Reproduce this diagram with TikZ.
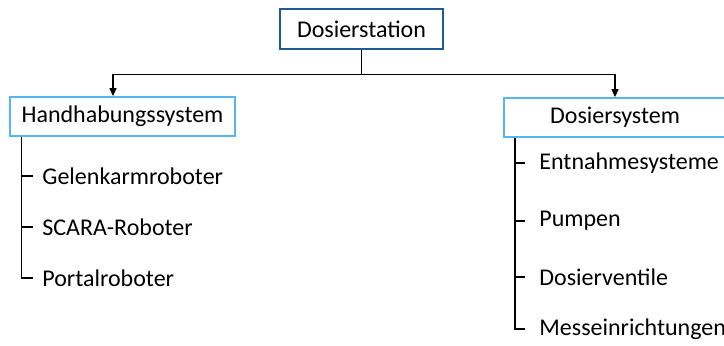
\documentclass[tikz,border=0pt]{standalone}
\usepackage{fontspec}
\setmainfont{Carlito}
\usetikzlibrary{positioning, calc, arrows.meta}
\definecolor{darkblue}{HTML}{1F5A96}
\definecolor{lightblue}{HTML}{56B4F0}
\tikzset{
  topbox/.style={draw=darkblue, line width=1.3pt, minimum width=81.5pt, minimum height=20pt, inner sep=0pt, font=\fontsize{12}{14}\selectfont},
  subbox/.style={draw=lightblue, line width=0.9pt, minimum height=19.5pt, inner sep=0pt, font=\fontsize{12}{14}\selectfont},
  item/.style={anchor=west, inner ysep=0pt, font=\fontsize{12}{14}\selectfont},
  arr/.style={-{Triangle[length=4pt,width=3.5pt]}, line width=0.6pt},
  tree/.style={line width=0.6pt}
}
\begin{document}
\begin{tikzpicture}[x=0.5pt,y=-0.5pt]
      \useasboundingbox (0,0) rectangle (724,345);

      \node[topbox] (station) at (361.5,29) {Dosierstation};

      \node[subbox, minimum width=112.5pt] (hand) at (122.5,116.5) {Handhabungssystem};
      \node[subbox, minimum width=111pt] (dosier) at (615,117.5) {Dosiersystem};

      \draw[arr] (station.south) -- ++(0,24) -| (hand.north -| 113,0);
      \draw[arr] (station.south) -- ++(0,24) -| (dosier.north);

      % left branch
      \node[item, inner xsep=4.5pt] (gelenk) at (33,176) {Gelenkarmroboter};
      \node[item, inner xsep=4.5pt] (scara) at (33,227) {SCARA-Roboter};
      \node[item, inner xsep=4.5pt] (portal) at (33,278) {Portalroboter};

      \draw[tree] (hand.south -| 21.5,0) |- (portal.west);
      \draw[tree] (gelenk.west -| 21.5,0) -- (gelenk.west);
      \draw[tree] (scara.west -| 21.5,0) -- (scara.west);

      % right branch
      \node[item, inner xsep=7pt] (entnahme) at (525,163) {Entnahmesysteme};
      \node[item, inner xsep=7pt] (pumpen) at (525,221) {Pumpen};
      \node[item, inner xsep=7pt] (ventile) at (525,277) {Dosierventile};
      \node[item, inner xsep=7pt] (messen) at (525,329) {Messeinrichtungen};

      \draw[tree] (dosier.south -| 515,0) |- (messen.west);
      \draw[tree] (entnahme.west -| 515,0) -- (entnahme.west);
      \draw[tree] (pumpen.west -| 515,0) -- (pumpen.west);
      \draw[tree] (ventile.west -| 515,0) -- (ventile.west);
    \end{tikzpicture}
\end{document}
